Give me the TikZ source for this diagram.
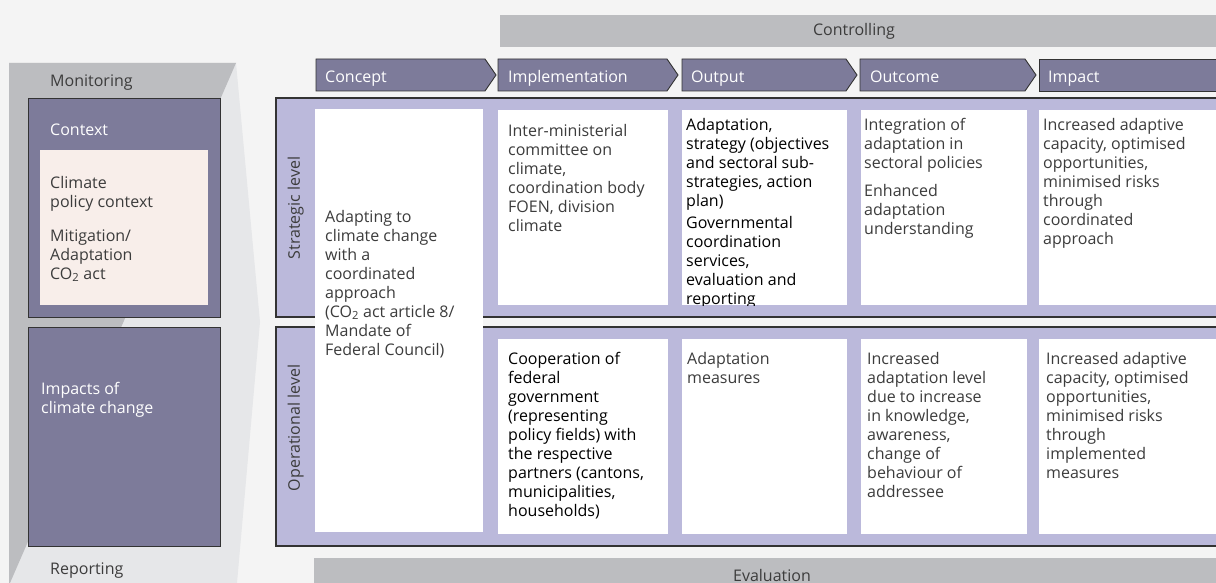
\documentclass[tikz,border=0pt]{standalone}
\usepackage{fontspec}
\setmainfont{Open Sans}
\definecolor{paper}{HTML}{F4F4F4}
\definecolor{darkgrey}{HTML}{BCBDC0}
\definecolor{lightgrey}{HTML}{E6E7E9}
\definecolor{purple}{HTML}{7D7B9A}
\definecolor{lavender}{HTML}{BBB9DB}
\definecolor{pink}{HTML}{F8EEEA}
\definecolor{ink}{HTML}{3C3C3C}
\definecolor{edge}{HTML}{333333}
\begin{document}
\begin{tikzpicture}[x=1pt,y=-1pt,
  txt/.style={anchor=north west,inner sep=0pt,align=left,font=\fontsize{16}{19}\selectfont,text=ink,execute at begin node=\strut},
  wtxt/.style={txt,text=white},
  btxt/.style={txt,text=black},
  bartxt/.style={txt,anchor=base},
  purplebox/.style={fill=purple,draw=edge,line width=0.9pt},
  whitebox/.style={fill=white},
  panel/.style={fill=lavender},
  chevron/.style={fill=purple,draw=edge,line width=0.9pt}]
\useasboundingbox (0,0) rectangle (1216,583);
\fill[paper] (0,0) rectangle (1216,583);
%%% Monitoring / Reporting frame on the left
\fill[lightgrey] (9,63) -- (236,63) -- (260,322) -- (237,583) -- (9,583) -- cycle;
\fill[darkgrey] (9,63) -- (236,63) -- (10,583) -- (9,583) -- cycle;
\node[txt] (monitoring) at (50,73) {Monitoring};
\node[txt] (reporting) at (50,561) {Reporting};
%%% Context box
\draw[purplebox] (28,98) rectangle (220,317);
\node[wtxt] (context) at (50,122) {Context};
\fill[pink] (40,150) rectangle (208,305);
\node[txt] (climate) at (50,176) {Climate\\policy context\\[15pt]Mitigation/\\Adaptation\\CO\textsubscript{2} act};
%%% Impacts box
\draw[purplebox] (28,327) rectangle (220,546);
\node[wtxt] (impacts) at (41,382) {Impacts of\\climate change};
%%% Controlling and Evaluation bars
\fill[darkgrey] (500,15) rectangle (1216,47);
\node[bartxt] (controlling) at (854,36) {Controlling};
\fill[darkgrey] (314,558) rectangle (1216,583);
\node[bartxt] (evaluation) at (772,581) {Evaluation};
%%% The chevrons of the results chain
\draw[chevron] (316,59) -- (485,59) -- (496,75) -- (485,91) -- (316,91) -- cycle;
\node[wtxt] (concept) at (325,69) {Concept};
\draw[chevron] (498,59) -- (667,59) -- (678,75) -- (667,91) -- (498,91) -- cycle;
\node[wtxt] (implementation) at (508,69) {Implementation};
\draw[chevron] (682,59) -- (846,59) -- (857,75) -- (846,91) -- (682,91) -- cycle;
\node[wtxt] (output) at (691,69) {Output};
\draw[chevron] (860,59) -- (1025,59) -- (1036,75) -- (1025,91) -- (860,91) -- cycle;
\node[wtxt] (outcome) at (870,69) {Outcome};
\draw[chevron] (1039,59) -- (1220,59) -- (1220,91) -- (1039,91) -- cycle;
\node[wtxt] (impact) at (1048,69) {Impact};
%%% Strategic and operational level panels
\fill[panel] (276,98) rectangle (1220,317);
\draw[edge,line width=1.2pt] (1220,98) -- (276,98) -- (276,317) -- (1220,317);
\node[txt,rotate=90,anchor=center] (strategic) at (296,208) {Strategic level};
\fill[panel] (276,327) rectangle (1220,546);
\draw[edge,line width=1.2pt] (1220,327) -- (276,327) -- (276,546) -- (1220,546);
\node[txt,rotate=90,anchor=center] (operational) at (296,428) {Operational level};
%%% Concept box spanning both levels
\fill[whitebox] (315,109) rectangle (483,532);
\node[txt] (conceptbox) at (325,210) {Adapting to\\climate change\\with a\\coordinated\\approach\\(CO\textsubscript{2} act article 8/\\Mandate of\\Federal Council)};
%%% Strategic level boxes
\fill[whitebox] (498,110) rectangle (668,305);
\node[txt] (stratimpl) at (508,124) {Inter-ministerial\\committee on\\climate,\\coordination body\\FOEN, division\\climate};
\fill[whitebox] (682,110) rectangle (847,305);
\begin{scope}
\clip (682,110) rectangle (847,305);
\node[btxt] (stratout) at (686,118) {Adaptation,\\strategy (objectives\\and sectoral sub-\\strategies, action\\plan)\\[3pt]Governmental\\coordination\\services,\\evaluation and\\reporting};
\end{scope}
\fill[whitebox] (861,110) rectangle (1027,305);
\node[txt] (stratoutc) at (864,118) {Integration of\\adaptation in\\sectoral policies\\[9pt]Enhanced\\adaptation\\understanding};
\fill[whitebox] (1039,110) rectangle (1220,305);
\node[txt] (stratimp) at (1043,118) {Increased adaptive\\capacity, optimised\\opportunities,\\minimised risks\\through\\coordinated\\approach};
%%% Operational level boxes
\fill[whitebox] (498,339) rectangle (668,534);
\node[btxt] (opimpl) at (508,352) {Cooperation of\\federal\\government\\(representing\\policy fields) with\\the respective\\partners (cantons,\\municipalities,\\households)};
\fill[whitebox] (682,339) rectangle (847,534);
\node[txt] (opout) at (687,352) {Adaptation\\measures};
\fill[whitebox] (861,339) rectangle (1027,534);
\node[txt] (opoutc) at (867,352) {Increased\\adaptation level\\due to increase\\in knowledge,\\awareness,\\change of\\behaviour of\\addressee};
\fill[whitebox] (1039,339) rectangle (1220,534);
\node[txt] (opimp) at (1046,352) {Increased adaptive\\capacity, optimised\\opportunities,\\minimised risks\\through\\implemented\\measures};
\end{tikzpicture}
\end{document}
